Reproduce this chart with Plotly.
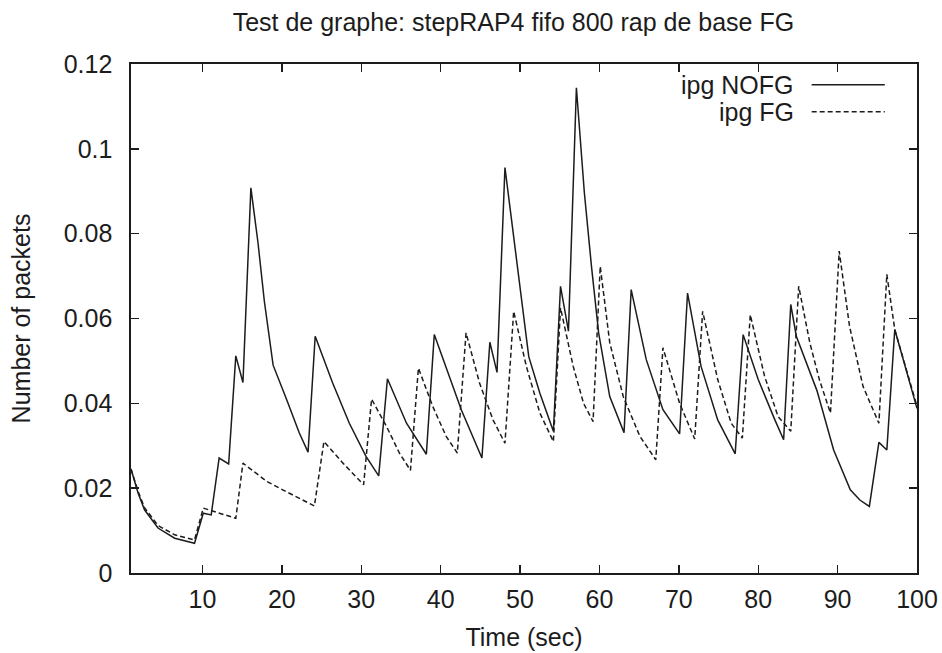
import plotly.graph_objects as go

# ---- data ----
nofg_x = [1, 1.9, 2.7, 4.4, 6.5, 9.0, 10.1, 11.1, 12.1, 13.3, 14.2, 15.1, 16.1,
          17.0, 17.8, 18.9, 20.6, 22.2, 23.3, 24.2, 26.4, 28.5, 30.6, 32.2,
          33.3, 35.7, 38.2, 39.2, 42.6, 45.2, 46.2, 47.1, 48.1, 49.8, 51.1,
          52.5, 54.2, 55.1, 56.1, 57.1, 58.1, 59.0, 59.9, 61.3, 63.1, 64.0,
          65.9, 68.0, 70.1, 71.1, 72.8, 74.9, 77.1, 78.1, 80.0, 82.1, 83.2,
          84.1, 84.8, 87.4, 89.5, 91.6, 92.8, 94.0, 95.2, 96.2, 97.2, 100]
nofg_y = [0.0245, 0.0188, 0.0149, 0.0106, 0.0082, 0.0070, 0.0141, 0.0137, 0.0271,
          0.0257, 0.0512, 0.0449, 0.0908, 0.0778, 0.0640, 0.0490, 0.0409, 0.0330,
          0.0285, 0.0558, 0.0448, 0.0353, 0.0275, 0.0229, 0.0458, 0.0353, 0.0280,
          0.0562, 0.0385, 0.0271, 0.0544, 0.0473, 0.0956, 0.0700, 0.0510, 0.0424,
          0.0334, 0.0676, 0.0570, 0.1144, 0.0897, 0.0723, 0.0566, 0.0416, 0.0331,
          0.0668, 0.0503, 0.0385, 0.0328, 0.0660, 0.0487, 0.0361, 0.0281, 0.0562,
          0.0456, 0.0361, 0.0314, 0.0633, 0.0558, 0.0430, 0.0290, 0.0196, 0.0172,
          0.0157, 0.0308, 0.0290, 0.0574, 0.0388]

fg_x = [1, 1.9, 2.7, 4.4, 6.5, 9.0, 10.1, 14.2, 15.1, 18.1, 20.1, 24.1, 25.3,
        27.7, 30.3, 31.3, 33.2, 34.8, 36.2, 37.2, 39.0, 40.7, 42.1, 43.2, 44.9,
        46.6, 48.1, 49.2, 50.8, 52.5, 54.2, 55.1, 56.7, 58.0, 59.2, 60.1, 61.3,
        63.0, 65.1, 67.1, 68.0, 70.1, 72.0, 73.0, 74.9, 76.6, 78.0, 79.0, 80.8,
        82.5, 84.1, 85.1, 86.5, 87.7, 89.1, 90.2, 91.5, 93.2, 95.2, 96.2, 97.2, 100]
fg_y = [0.0245, 0.0192, 0.0154, 0.0112, 0.0090, 0.0078, 0.0153, 0.0129, 0.0259,
        0.0216, 0.0196, 0.0158, 0.0310, 0.0259, 0.0208, 0.0410, 0.0345, 0.0283,
        0.0242, 0.0483, 0.0393, 0.0322, 0.0283, 0.0566, 0.0448, 0.0361, 0.0306,
        0.0617, 0.0487, 0.0377, 0.0310, 0.0625, 0.0487, 0.0400, 0.0357, 0.0723,
        0.0543, 0.0416, 0.0322, 0.0267, 0.0531, 0.0400, 0.0316, 0.0617, 0.0456,
        0.0353, 0.0318, 0.0609, 0.0464, 0.0369, 0.0334, 0.0676, 0.0543, 0.0456,
        0.0377, 0.0759, 0.0582, 0.0440, 0.0353, 0.0704, 0.0574, 0.0393]

x_ticks = [10, 20, 30, 40, 50, 60, 70, 80, 90, 100]
y_ticks = [0, 0.02, 0.04, 0.06, 0.08, 0.1, 0.12]
series_names = ["ipg NOFG", "ipg FG"]

INK = "#1c1c1c"
FONT = "Liberation Sans, Arial, Helvetica, sans-serif"
FS = 25
W, H = 942, 653

fig = go.Figure()
fig.add_trace(go.Scatter(x=nofg_x, y=nofg_y, mode="lines", name=series_names[0],
                         line=dict(color=INK, width=1.5), showlegend=False))
fig.add_trace(go.Scatter(x=fg_x, y=fg_y, mode="lines", name=series_names[1],
                         line=dict(color=INK, width=1.5, dash="5px,3px"),
                         showlegend=False))

# gnuplot-style key: right-aligned text with line sample on its right
key_rows = [0.959, 0.906]
key_dash = ["solid", "5px,3px"]
for name, yy, dsh in zip(series_names, key_rows, key_dash):
    fig.add_annotation(x=0.846, y=yy, xref="paper", yref="paper", text=name,
                       showarrow=False, xanchor="right", yanchor="middle",
                       font=dict(family=FONT, size=FS, color=INK))
    fig.add_shape(type="line", xref="paper", yref="paper",
                  x0=0.866, x1=0.959, y0=yy, y1=yy,
                  line=dict(color=INK, width=1.5, dash=dsh))

axis_common = dict(showline=True, linecolor=INK, linewidth=1.6, mirror="ticks",
                   ticks="inside", ticklen=8, tickwidth=1.4, tickcolor=INK,
                   showgrid=False, zeroline=False, automargin=False,
                   ticklabeloverflow="allow",
                   tickfont=dict(family=FONT, size=FS, color=INK))

fig.update_layout(
    width=W, height=H,
    paper_bgcolor="white", plot_bgcolor="white",
    margin=dict(l=131, r=25, t=64, b=80),
    hovermode=False,
    title=dict(text="Test de graphe: stepRAP4 fifo 800 rap de base FG",
               x=0.545, xanchor="center", y=(H - 22) / H, yanchor="middle",
               font=dict(family=FONT, size=FS, color=INK)),
    xaxis=dict(range=[1, 100], tickvals=x_ticks, ticklabelstandoff=3,
               title=dict(text="Time (sec)", standoff=17,
                          font=dict(family=FONT, size=FS, color=INK)),
               **axis_common),
    yaxis=dict(range=[0, 0.12], tickvals=y_ticks, ticklabelstandoff=12,
               title=dict(text="Number of packets", standoff=26,
                          font=dict(family=FONT, size=FS, color=INK)),
               **axis_common),
)

# remove the browser's default page margin so the figure fills the window
fig.write_html("out.html",
               config={"displayModeBar": False, "staticPlot": True},
               post_script="document.body.style.margin='0';"
                           "document.body.style.overflow='hidden';")
